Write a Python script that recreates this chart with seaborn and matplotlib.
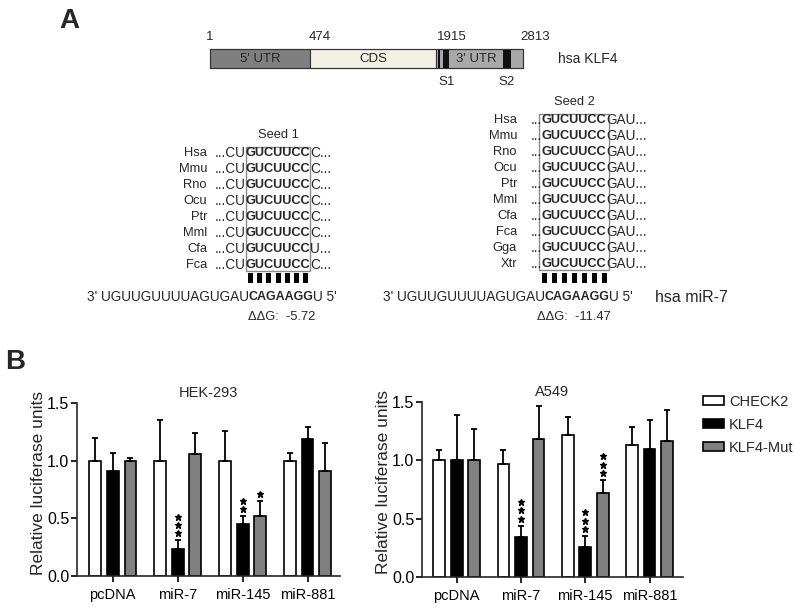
import numpy as np
import pandas as pd
import matplotlib.pyplot as plt
import matplotlib.patches as mpatches
import seaborn as sns

sns.set_style('ticks')
plt.rcParams['font.family'] = ['Liberation Sans', 'DejaVu Sans']
plt.rcParams['axes.linewidth'] = 1.2

# ---- panel B data ----
groups = ['pcDNA', 'miR-7', 'miR-145', 'miR-881']
constructs = ['CHECK2', 'KLF4', 'KLF4-Mut']
bar_colors = ['white', 'black', '#808080']

hek_check2 = [1.00, 1.00, 1.00, 1.00]
hek_check2_err = [0.20, 0.35, 0.26, 0.07]
hek_klf4 = [0.91, 0.23, 0.45, 1.19]
hek_klf4_err = [0.16, 0.08, 0.07, 0.10]
hek_mut = [1.00, 1.06, 0.52, 0.91]
hek_mut_err = [0.02, 0.18, 0.13, 0.24]
hek_stars_klf4 = [0, 3, 2, 0]
hek_stars_mut = [0, 0, 1, 0]

a549_check2 = [1.00, 0.97, 1.22, 1.13]
a549_check2_err = [0.09, 0.12, 0.15, 0.16]
a549_klf4 = [1.00, 0.34, 0.26, 1.10]
a549_klf4_err = [0.39, 0.10, 0.09, 0.25]
a549_mut = [1.00, 1.18, 0.72, 1.17]
a549_mut_err = [0.27, 0.29, 0.11, 0.26]
a549_stars_klf4 = [0, 3, 3, 0]
a549_stars_mut = [0, 0, 3, 0]

# ---- panel A text ----
gene_ticks = ['1', '474', '1915', '2813']
seed1_species = ['Hsa', 'Mmu', 'Rno', 'Ocu', 'Ptr', 'Mml', 'Cfa', 'Fca']
seed1_after = ['C...', 'C...', 'C...', 'C...', 'C...', 'C...', 'U...', 'C...']
seed2_species = ['Hsa', 'Mmu', 'Rno', 'Ocu', 'Ptr', 'Mml', 'Cfa', 'Fca', 'Gga', 'Xtr']
seed_core = 'GUCUUCC'
mirna_5p = "3' UGUUGUUUUAGUGAU"
mirna_seed = 'CAGAAGG'
mirna_3p = "U 5'"
dg_values = ['-5.72', '-11.47']

fig = plt.figure(figsize=(7.94, 6.11), dpi=100)
rend = fig.canvas.get_renderer()

# overlay in pixel coordinates for the schematic
ov = fig.add_axes([0, 0, 1, 1])
ov.set_xlim(0, 794)
ov.set_ylim(611, 0)
ov.axis('off')

ov.text(59, 21, 'A', fontsize=20, fontweight='bold', va='center')
ov.text(5, 362, 'B', fontsize=20, fontweight='bold', va='center')

# gene bar
for x0, x1, c in [(210, 310, '#7f7f7f'), (310, 436, '#f3f0e4'), (436, 523, '#a9a9a9')]:
    ov.add_patch(mpatches.Rectangle((x0, 49), x1 - x0, 19, fc=c, ec='#333333', lw=0.8))
for x0, x1 in [(438, 440), (443, 449), (503, 511)]:
    ov.add_patch(mpatches.Rectangle((x0, 49), x1 - x0, 19, fc='#111111', ec='none'))
ov.add_patch(mpatches.Rectangle((210, 49), 313, 19, fc='none', ec='#333333', lw=0.8))
for lab, xc in zip(gene_ticks, [210, 320, 452, 535]):
    ov.text(xc, 37, lab, ha='center', va='center', fontsize=9.5)
ov.text(260, 59, "5' UTR", ha='center', va='center', fontsize=9.5)
ov.text(373, 59, 'CDS', ha='center', va='center', fontsize=9.5)
ov.text(476, 59, "3' UTR", ha='center', va='center', fontsize=9.5)
ov.text(447, 82, 'S1', ha='center', va='center', fontsize=9.5)
ov.text(507, 82, 'S2', ha='center', va='center', fontsize=9.5)
ov.text(558, 59, 'hsa KLF4', ha='left', va='center', fontsize=10)


def three_part(cx, y, pre, core, post, size, core_size):
    t = ov.text(cx, y, core, ha='center', va='center', fontsize=core_size, fontweight='bold')
    w = t.get_window_extent(renderer=rend).width
    ov.text(cx - w / 2, y, pre, ha='right', va='center', fontsize=size)
    ov.text(cx + w / 2, y, post, ha='left', va='center', fontsize=size)


def seed_block(species, pre, after, box_x0, box_x1, y_first, title, label_x):
    cx = (box_x0 + box_x1) / 2
    n = len(species)
    ys = [y_first + 16 * i for i in range(n)]
    box_top = ys[0] - 6
    ov.add_patch(mpatches.Rectangle((box_x0, box_top), box_x1 - box_x0, ys[-1] + 6 - box_top,
                                    fc='none', ec='#8a8a8a', lw=1))
    ov.text(cx, box_top - 12, title, ha='center', va='center', fontsize=9.3)
    for sp, post, y in zip(species, after, ys):
        ov.text(label_x, y, sp, ha='right', va='center', fontsize=9.3)
        three_part(cx, y, pre, seed_core, post, 9.8, 9.2)
    # base-pairing ticks
    step = (box_x1 - box_x0) / 7
    for k in range(7):
        ov.add_patch(mpatches.Rectangle((box_x0 + step * (k + 0.5) - 2.5, 273), 5, 10, fc='black', ec='none'))
    three_part(cx + 3, 297, mirna_5p, mirna_seed, mirna_3p, 9.8, 9)


seed_block(seed1_species, '...CU', seed1_after, 246, 310, 153, 'Seed 1', 207)
seed_block(seed2_species, '...', ['GAU...'] * 10, 539, 609, 120, 'Seed 2', 517)
ov.text(655, 297, 'hsa miR-7', ha='left', va='center', fontsize=11.5)
ov.text(282, 317, '\u0394\u0394G:  ' + dg_values[0], ha='center', va='center', fontsize=9.3)
ov.text(574, 317, '\u0394\u0394G:  ' + dg_values[1], ha='center', va='center', fontsize=9.3)


def draw_panel(ax, means, errs, stars, title, xlim):
    df = pd.DataFrame({
        'group': groups * 3,
        'construct': [c for c in constructs for _ in groups],
        'value': sum(means, []),
    })
    sns.barplot(data=df, x='group', y='value', hue='construct', order=groups, hue_order=constructs,
                palette=bar_colors, edgecolor='black', linewidth=1.2, width=0.82, gap=0.33,
                errorbar=None, legend=False, ax=ax, zorder=2)
    bar_conts = list(ax.containers)
    for i, cont in enumerate(bar_conts):
        for j, bar in enumerate(cont):
            x = bar.get_x() + bar.get_width() / 2
            h = bar.get_height()
            e = errs[i][j]
            ax.errorbar([x], [h], yerr=[[0], [e]], fmt='none', ecolor='black', elinewidth=1.3,
                        capsize=2.2, capthick=1.3, zorder=3, clip_on=False)
            ns = stars[i][j]
            if ns:
                ys = [h + e + 0.06 + 0.072 * k for k in range(ns)]
                ax.plot([x] * ns, ys, ls='none', marker='*', ms=4.6, color='black', clip_on=False)
    ax.set_ylim(0, 1.5)
    ax.set_xlim(*xlim)
    ax.set_yticks([0, 0.5, 1.0, 1.5])
    ax.set_yticklabels(['0.0', '0.5', '1.0', '1.5'], fontsize=11.5)
    ax.set_xticks(range(len(groups)))
    ax.set_xticklabels(groups, fontsize=10.5)
    ax.tick_params(axis='both', width=1.2, length=4.5, color='black', labelcolor='black')
    ax.tick_params(axis='y', pad=1)
    ax.tick_params(axis='x', pad=4)
    ax.set_xlabel('')
    ax.set_ylabel('Relative luciferase units', fontsize=12.5)
    ax.yaxis.set_label_coords(-0.117, 0.54)
    ax.set_title(title, fontsize=10.5, pad=4)
    sns.despine(ax=ax)


axL = fig.add_axes([77 / 794, 1 - 576 / 611, 263 / 794, 173 / 611])
draw_panel(axL, [hek_check2, hek_klf4, hek_mut], [hek_check2_err, hek_klf4_err, hek_mut_err],
           [[0] * 4, hek_stars_klf4, hek_stars_mut], 'HEK-293', (-0.55, 3.5))

axR = fig.add_axes([422 / 794, 1 - 577 / 611, 261 / 794, 175 / 611])
draw_panel(axR, [a549_check2, a549_klf4, a549_mut], [a549_check2_err, a549_klf4_err, a549_mut_err],
           [[0] * 4, a549_stars_klf4, a549_stars_mut], 'A549', (-0.54, 3.52))

handles = [mpatches.Patch(fc=c, ec='black', lw=1.2) for c in bar_colors]
fig.legend(handles, constructs, loc='upper left', bbox_to_anchor=(703 / 794, 1 - 395 / 611),
           frameon=False, fontsize=10.5, handlelength=1.45, handleheight=0.6,
           handletextpad=0.35, labelspacing=0.6, borderpad=0, borderaxespad=0)

fig.savefig('out.png', dpi=100)
